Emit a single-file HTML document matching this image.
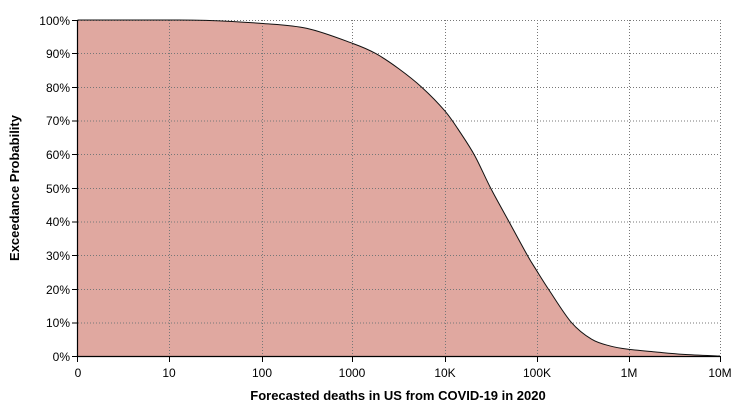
<!DOCTYPE html><html><head><style>body{margin:0;background:#fff}svg{display:block;font-family:"Liberation Sans",Arial,sans-serif}</style></head><body>
<svg width="740" height="412" viewBox="0 0 740 412">
<path id="area" d="" fill="#e0a8a0"/>
<g stroke="#777" stroke-dasharray="1,2" stroke-width="1" fill="none">
<path d="M78,53.5H720M78,87.5H720M78,121H720M78,154.5H720M78,188.5H720M78,222H720M78,255.5H720M78,289.5H720M78,323H720M78,20.5H720"/>
<path d="M169.5,20V356M262.5,20V356M352.5,20V356M445.5,20V356M537.5,20V356M629.5,20V356M720.5,20V356"/>
</g>
<path id="line" d="" fill="none" stroke="#111" stroke-width="1"/>
<path d="M77.5,20V356.5H720" fill="none" stroke="#000" stroke-width="1.2"/>
<g stroke="#000"><path d="M72,20.5H78M72,53.5H78M72,87.5H78M72,121H78M72,154.5H78M72,188.5H78M72,222H78M72,255.5H78M72,289.5H78M72,323H78M72,356.5H78"/>
<path d="M77.5,356V362M169.5,356V362M262.5,356V362M352.5,356V362M445.5,356V362M537.5,356V362M629.5,356V362M720.5,356V362"/></g>
<g font-size="12" fill="#000" text-anchor="end">
<text x="70" y="25">100%</text><text x="70" y="58">90%</text><text x="70" y="92">80%</text><text x="70" y="125">70%</text><text x="70" y="159">60%</text><text x="70" y="193">50%</text><text x="70" y="226">40%</text><text x="70" y="260">30%</text><text x="70" y="294">20%</text><text x="70" y="327">10%</text><text x="70" y="361">0%</text></g>
<g font-size="12" fill="#000" text-anchor="middle">
<text x="78" y="377">0</text><text x="169" y="377">10</text><text x="262" y="377">100</text><text x="352" y="377">1000</text><text x="445" y="377">10K</text><text x="537" y="377">100K</text><text x="629" y="377">1M</text><text x="720" y="377">10M</text></g>
<text x="398" y="400" font-size="13" font-weight="bold" text-anchor="middle">Forecasted deaths in US from COVID-19 in 2020</text>
<text transform="translate(19,188) rotate(-90)" font-size="13" font-weight="bold" text-anchor="middle">Exceedance Probability</text>
</svg>
<script>
var P=[[0,100],[1,100],[1.4,99.9],[2,99],[2.5,97.5],[3,93],[3.25,90],[3.5,85.5],[3.75,80],[4,73],[4.17,66.5],[4.33,59.5],[4.5,50],[4.7,40],[4.9,30],[5,25.5],[5.14,19.5],[5.38,10],[5.6,5],[5.8,3],[6,2],[6.3,1.2],[6.6,0.5],[7,0]];
function X(u){return 77.5+u*91.8}function Y(p){return 356-p*3.36}
var pts=P.map(function(a){return[X(a[0]),Y(a[1])]});
var d="M"+pts[0][0]+","+pts[0][1];
for(var i=0;i<pts.length-1;i++){var p0=pts[Math.max(0,i-1)],p1=pts[i],p2=pts[i+1],p3=pts[Math.min(pts.length-1,i+2)];
var c1=[p1[0]+(p2[0]-p0[0])/6,p1[1]+(p2[1]-p0[1])/6],c2=[p2[0]-(p3[0]-p1[0])/6,p2[1]-(p3[1]-p1[1])/6];
c1[1]=Math.max(20,Math.min(356,c1[1]));c2[1]=Math.max(20,Math.min(356,c2[1]));
d+=" C"+c1[0].toFixed(2)+","+c1[1].toFixed(2)+" "+c2[0].toFixed(2)+","+c2[1].toFixed(2)+" "+p2[0].toFixed(2)+","+p2[1].toFixed(2);}
document.getElementById("line").setAttribute("d",d);
document.getElementById("area").setAttribute("d",d+" L77.5,356 Z");
</script>
</body></html>
